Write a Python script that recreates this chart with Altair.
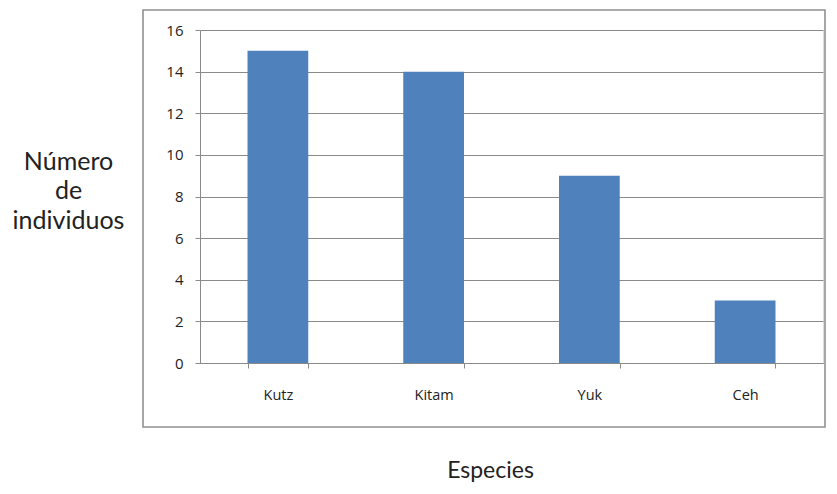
import altair as alt
import pandas as pd

especies = ["Kutz", "Kitam", "Yuk", "Ceh"]
individuos = [15, 14, 9, 3]
y_ticks = [0, 2, 4, 6, 8, 10, 12, 14, 16]

df = pd.DataFrame({"Especies": especies, "Individuos": individuos})

FONT = "Lato"
LABEL_FONT = "Open Sans"
GRAY = "#8a8a8a"

frame = alt.Chart(pd.DataFrame({"a": [0]})).mark_rect(
    fillOpacity=0, stroke="#909090", strokeWidth=1.6
).encode(
    x=alt.value(-57), x2=alt.value(625), y=alt.value(-20), y2=alt.value(397)
)

bars = alt.Chart(df).mark_bar(color="#4F81BD").encode(
    x=alt.X(
        "Especies:N",
        sort=especies,
        scale=alt.Scale(paddingInner=0.61, paddingOuter=0.305),
        axis=alt.Axis(
            title="Especies",
            labelAngle=0,
            tickBand="extent",
            tickSize=5,
            tickColor=GRAY,
            domainColor=GRAY,
            labelPadding=20,
            labelFont=LABEL_FONT,
            labelFontSize=14.5,
            labelColor="#222222",
            titleFont=FONT,
            titleFontSize=23,
            titleFontWeight="normal",
            titleColor="#222222",
            titleX=290,
            titleY=114,
            titleBaseline="alphabetic",
            titleAnchor="middle",
            titleAlign="center",
            grid=False,
        ),
    ),
    y=alt.Y(
        "Individuos:Q",
        scale=alt.Scale(domain=[0, 16], nice=False),
        axis=alt.Axis(
            title=["Número", "de", "individuos"],
            values=y_ticks,
            tickSize=5,
            tickColor=GRAY,
            domainColor=GRAY,
            gridColor=GRAY,
            grid=True,
            labelPadding=12,
            labelFont=LABEL_FONT,
            labelFontSize=15,
            labelColor="#222222",
            titleFont=FONT,
            titleFontSize=25,
            titleFontWeight="normal",
            titleColor="#222222",
            titleAngle=0,
            titleAlign="center",
            titleBaseline="alphabetic",
            titleX=-132,
            titleY=139,
            titleLineHeight=29.5,
        ),
    ),
)

chart = alt.layer(frame, bars).properties(
    width=623,
    height=333,
    padding={"left": 200, "top": 30, "right": 14, "bottom": 131},
    autosize=alt.AutoSizeParams(type="none"),
).configure_view(stroke=None).configure(background="white")

chart.save("out.html", embed_options={"renderer": "svg", "actions": False})
